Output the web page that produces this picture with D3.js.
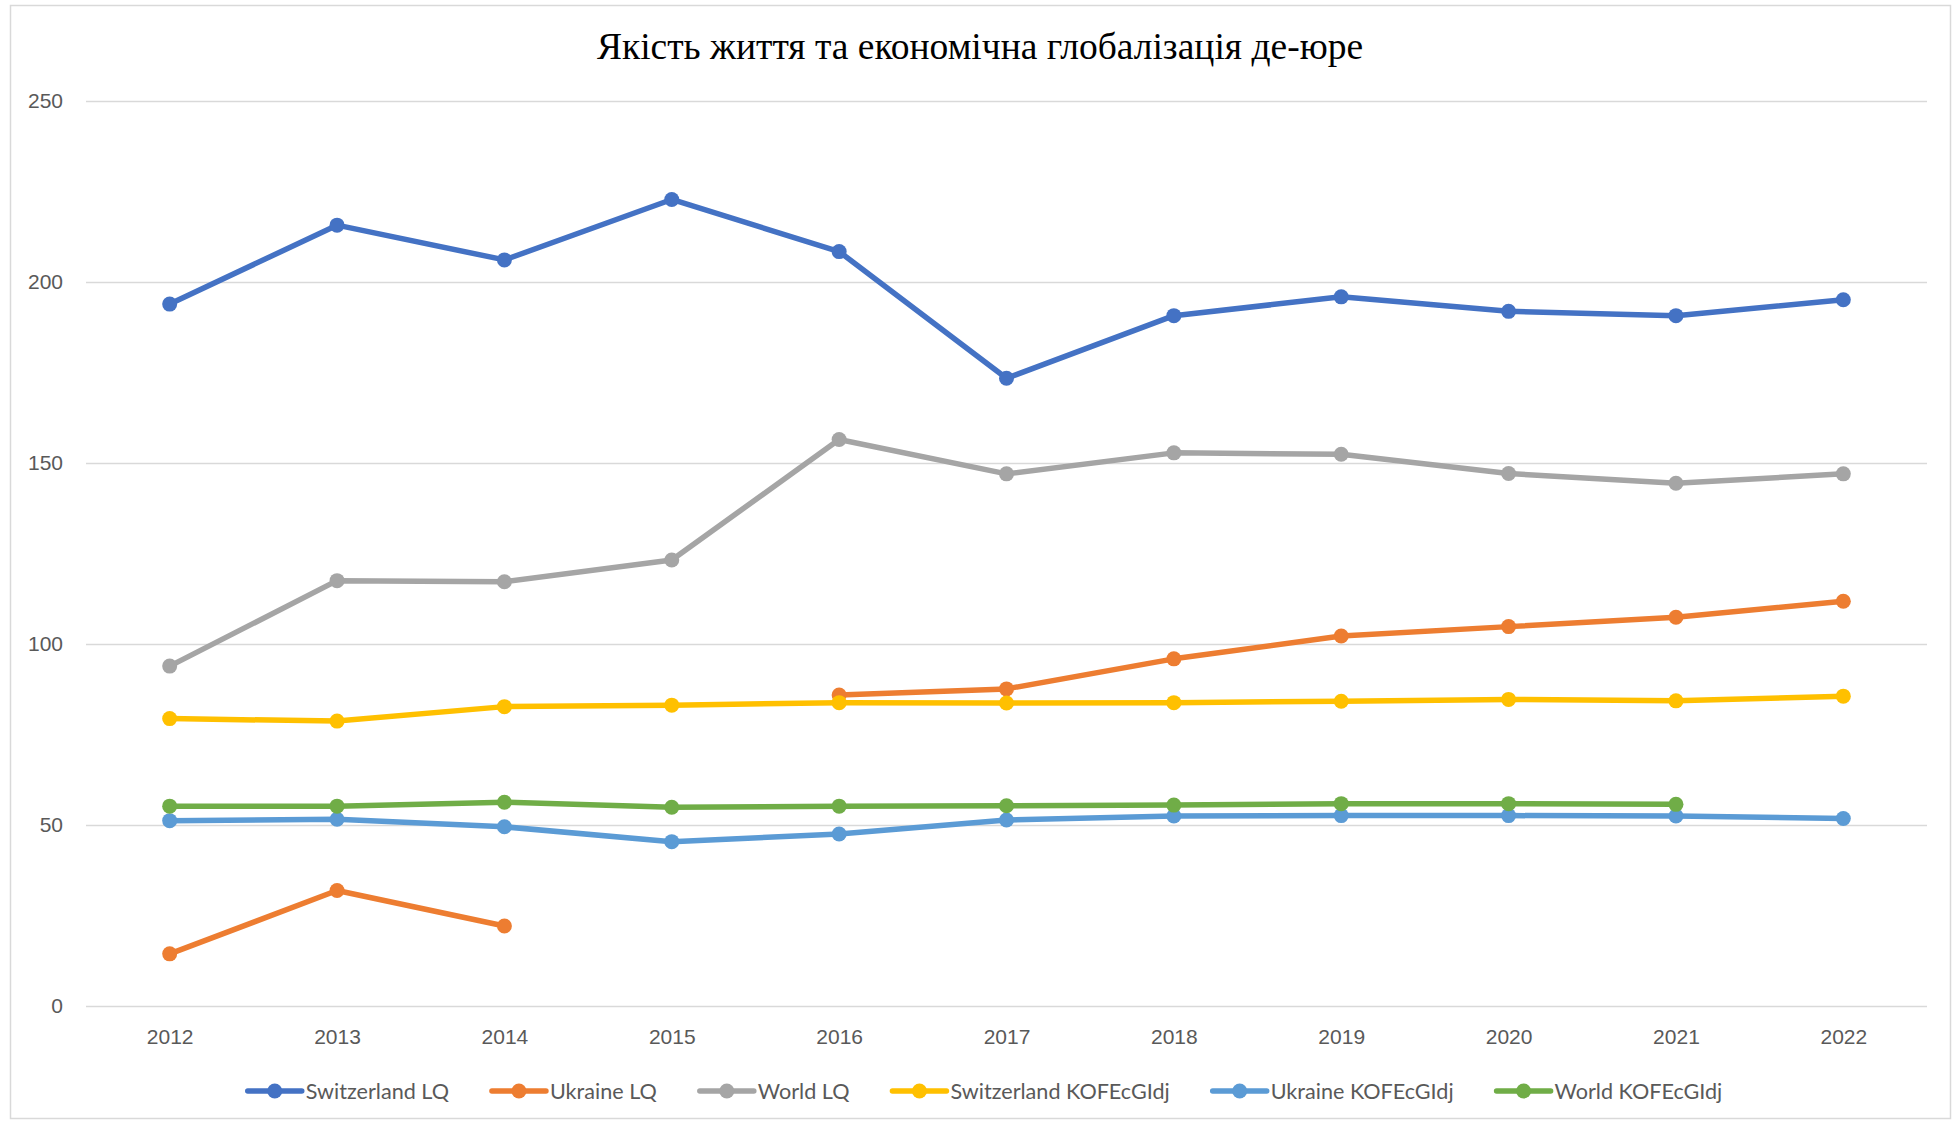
<!DOCTYPE html>
<html>
<head>
<meta charset="utf-8">
<script src="https://cdnjs.cloudflare.com/ajax/libs/d3/7.8.5/d3.min.js"></script>
<style>
  body { margin: 0; background: #fff; }
</style>
</head>
<body>
<div id="chart"></div>
<script>
// values
const years = ['2012', '2013', '2014', '2015', '2016', '2017', '2018', '2019', '2020', '2021', '2022'];
const yTicks = [0, 50, 100, 150, 200, 250];
const seriesNames = ['Switzerland LQ', 'Ukraine LQ', 'World LQ', 'Switzerland KOFEcGIdj', 'Ukraine KOFEcGIdj', 'World KOFEcGIdj'];
const seriesColors = ['#4472C4', '#ED7D31', '#A5A5A5', '#FFC000', '#5B9BD5', '#70AD47'];

const switzerlandLQ = [193.9, 215.7, 206.1, 222.8, 208.4, 173.4, 190.7, 195.9, 191.9, 190.7, 195.1];
const ukraineLQ = [14.4, 31.9, 22.1, null, 85.9, 87.6, 95.9, 102.2, 104.8, 107.4, 111.8];
const worldLQ = [93.9, 117.5, 117.2, 123.2, 156.5, 147.0, 152.8, 152.4, 147.1, 144.4, 147.0];
const switzerlandKOF = [79.4, 78.7, 82.7, 83.1, 83.8, 83.7, 83.8, 84.2, 84.7, 84.3, 85.6];
const ukraineKOF = [51.2, 51.6, 49.5, 45.4, 47.5, 51.4, 52.5, 52.6, 52.6, 52.5, 51.8];
const worldKOF = [55.2, 55.2, 56.3, 54.9, 55.2, 55.3, 55.5, 55.9, 55.9, 55.7, null];

const titleText = 'Якість життя та економічна глобалізація де-юре';

class Chart {
    constructor() {
        const attrs = {
            svgWidth: 1954,
            svgHeight: 1125,
            marginTop: 101,
            marginBottom: 119,
            marginRight: 27,
            marginLeft: 86,
            container: '#chart',
            defaultTextFill: '#595959',
            defaultFont: 'Lato, "Noto Sans", sans-serif',
            gridColor: '#d9d9d9',
            lineWidth: 5.5,
            markerRadius: 7.5,
            legendCenter: 985,
            data: null
        };

        this.getState = () => attrs;
        this.setState = (d) => Object.assign(attrs, d);

        this.initializeEnterExitUpdatePattern();
    }

    render() {
        this.calculateProperties();
        this.drawSvgAndWrappers();
        this.drawAxes();
        this.drawLines();
        this.drawLegend();
        return this;
    }

    calculateProperties() {
        const { marginLeft, marginTop, marginRight, marginBottom, svgWidth, svgHeight } = this.getState();

        const chartWidth = svgWidth - marginRight - marginLeft;
        const chartHeight = svgHeight - marginBottom - marginTop;

        const x = d3.scalePoint().domain(years).range([0, chartWidth]).padding(0.5);
        const y = d3.scaleLinear().domain([0, 250]).range([chartHeight, 0]);

        this.setState({ chartWidth, chartHeight, x, y });
    }

    drawSvgAndWrappers() {
        const { container, svgWidth, svgHeight, defaultFont, marginLeft, marginTop, gridColor } = this.getState();

        const svg = d3.select(container)
            ._add({ tag: 'svg', className: 'svg-chart-container' })
            .attr('width', svgWidth)
            .attr('height', svgHeight)
            .attr('font-family', defaultFont);

        // chart area border
        svg._add({ tag: 'rect', className: 'chart-border' })
            .attr('x', 10.5)
            .attr('y', 5.5)
            .attr('width', 1940)
            .attr('height', 1113)
            .attr('fill', '#fff')
            .attr('stroke', gridColor)
            .attr('stroke-width', 1.5);

        svg._add({ tag: 'text', className: 'chart-title' })
            .attr('x', 980)
            .attr('y', 59)
            .attr('text-anchor', 'middle')
            .attr('font-family', '"Liberation Serif", "Times New Roman", serif')
            .attr('font-size', 37.5)
            .attr('fill', '#000')
            .text(titleText);

        const chart = svg._add({ tag: 'g', className: 'chart' })
            .attr('transform', `translate(${marginLeft},${marginTop})`);

        this.setState({ svg, chart });
    }

    drawAxes() {
        const { chart, x, y, chartWidth, chartHeight, gridColor, defaultTextFill } = this.getState();

        const yAxis = chart._add({ tag: 'g', className: 'y-axis' })
            .call(d3.axisLeft(y).tickValues(yTicks).tickSize(-chartWidth).tickPadding(23));

        yAxis.select('.domain').remove();
        yAxis.selectAll('.tick line')
            .attr('stroke', gridColor)
            .attr('stroke-width', 1.5);
        yAxis.selectAll('.tick text')
            .attr('fill', defaultTextFill)
            .attr('font-size', 21)
            .attr('font-family', null);

        const xAxis = chart._add({ tag: 'g', className: 'x-axis' })
            .attr('transform', `translate(0,${chartHeight})`)
            .call(d3.axisBottom(x).tickSize(0).tickPadding(23));

        xAxis.select('.domain').remove();
        xAxis.selectAll('.tick text')
            .attr('fill', defaultTextFill)
            .attr('font-size', 21)
            .attr('font-family', null);
    }

    drawLines() {
        const { chart, x, y, lineWidth, markerRadius } = this.getState();

        const allSeries = [switzerlandLQ, ukraineLQ, worldLQ, switzerlandKOF, ukraineKOF, worldKOF]
            .map((values, i) => ({
                name: seriesNames[i],
                color: seriesColors[i],
                points: values.map((v, j) => ({ year: years[j], value: v }))
            }));

        const line = d3.line()
            .defined(d => d.value !== null)
            .x(d => x(d.year))
            .y(d => y(d.value));

        const groups = chart._add({ tag: 'g', className: 'series', data: allSeries });

        groups._add({ tag: 'path', className: 'series-line', data: d => [d] })
            .attr('d', d => line(d.points))
            .attr('fill', 'none')
            .attr('stroke', d => d.color)
            .attr('stroke-width', lineWidth)
            .attr('stroke-linejoin', 'round')
            .attr('stroke-linecap', 'round');

        groups._add({ tag: 'circle', className: 'series-dot', data: d => d.points.filter(p => p.value !== null).map(p => ({ ...p, color: d.color })) })
            .attr('cx', d => x(d.year))
            .attr('cy', d => y(d.value))
            .attr('r', markerRadius)
            .attr('fill', d => d.color);
    }

    drawLegend() {
        const { svg, defaultTextFill, lineWidth, markerRadius, legendCenter } = this.getState();

        const legendY = 1091;
        const symbolWidth = 54;
        const textGap = 4;
        const itemGap = 43;

        const legend = svg._add({ tag: 'g', className: 'legend' });

        const items = legend._add({ tag: 'g', className: 'legend-item', data: seriesNames.map((n, i) => ({ name: n, color: seriesColors[i] })) });

        items._add({ tag: 'line', className: 'legend-line', data: d => [d] })
            .attr('x1', 0)
            .attr('x2', symbolWidth)
            .attr('y1', 0)
            .attr('y2', 0)
            .attr('stroke', d => d.color)
            .attr('stroke-width', lineWidth)
            .attr('stroke-linecap', 'round');

        items._add({ tag: 'circle', className: 'legend-dot', data: d => [d] })
            .attr('cx', symbolWidth / 2)
            .attr('cy', 0)
            .attr('r', markerRadius)
            .attr('fill', d => d.color);

        items._add({ tag: 'text', className: 'legend-label', data: d => [d] })
            .attr('x', symbolWidth + textGap)
            .attr('y', 0)
            .attr('dy', '0.35em')
            .attr('font-size', 21.6)
            .attr('fill', defaultTextFill)
            .text(d => d.name);

        // lay items out side by side using real text widths
        const widths = [];
        items.each(function () {
            const t = d3.select(this).select('text').node().getComputedTextLength();
            widths.push(symbolWidth + textGap + t);
        });
        const total = d3.sum(widths) + itemGap * (widths.length - 1);
        let cursor = legendCenter - total / 2;
        items.attr('transform', (d, i) => {
            const pos = cursor;
            cursor += widths[i] + itemGap;
            return `translate(${pos},${legendY})`;
        });
    }

    initializeEnterExitUpdatePattern() {
        d3.selection.prototype._add = function (params) {
            var container = this;
            var className = params.className;
            var elementTag = params.tag;
            var data = params.data || [className];
            var selection = container.selectAll('.' + className).data(data, (d, i) => {
                if (typeof d === 'object' && d && d.id) {
                    return d.id;
                }
                return i;
            });
            selection.exit().remove();
            selection = selection.enter().append(elementTag).merge(selection);
            selection.attr('class', className);
            return selection;
        };
    }
}

new Chart().render();
</script>
</body>
</html>
